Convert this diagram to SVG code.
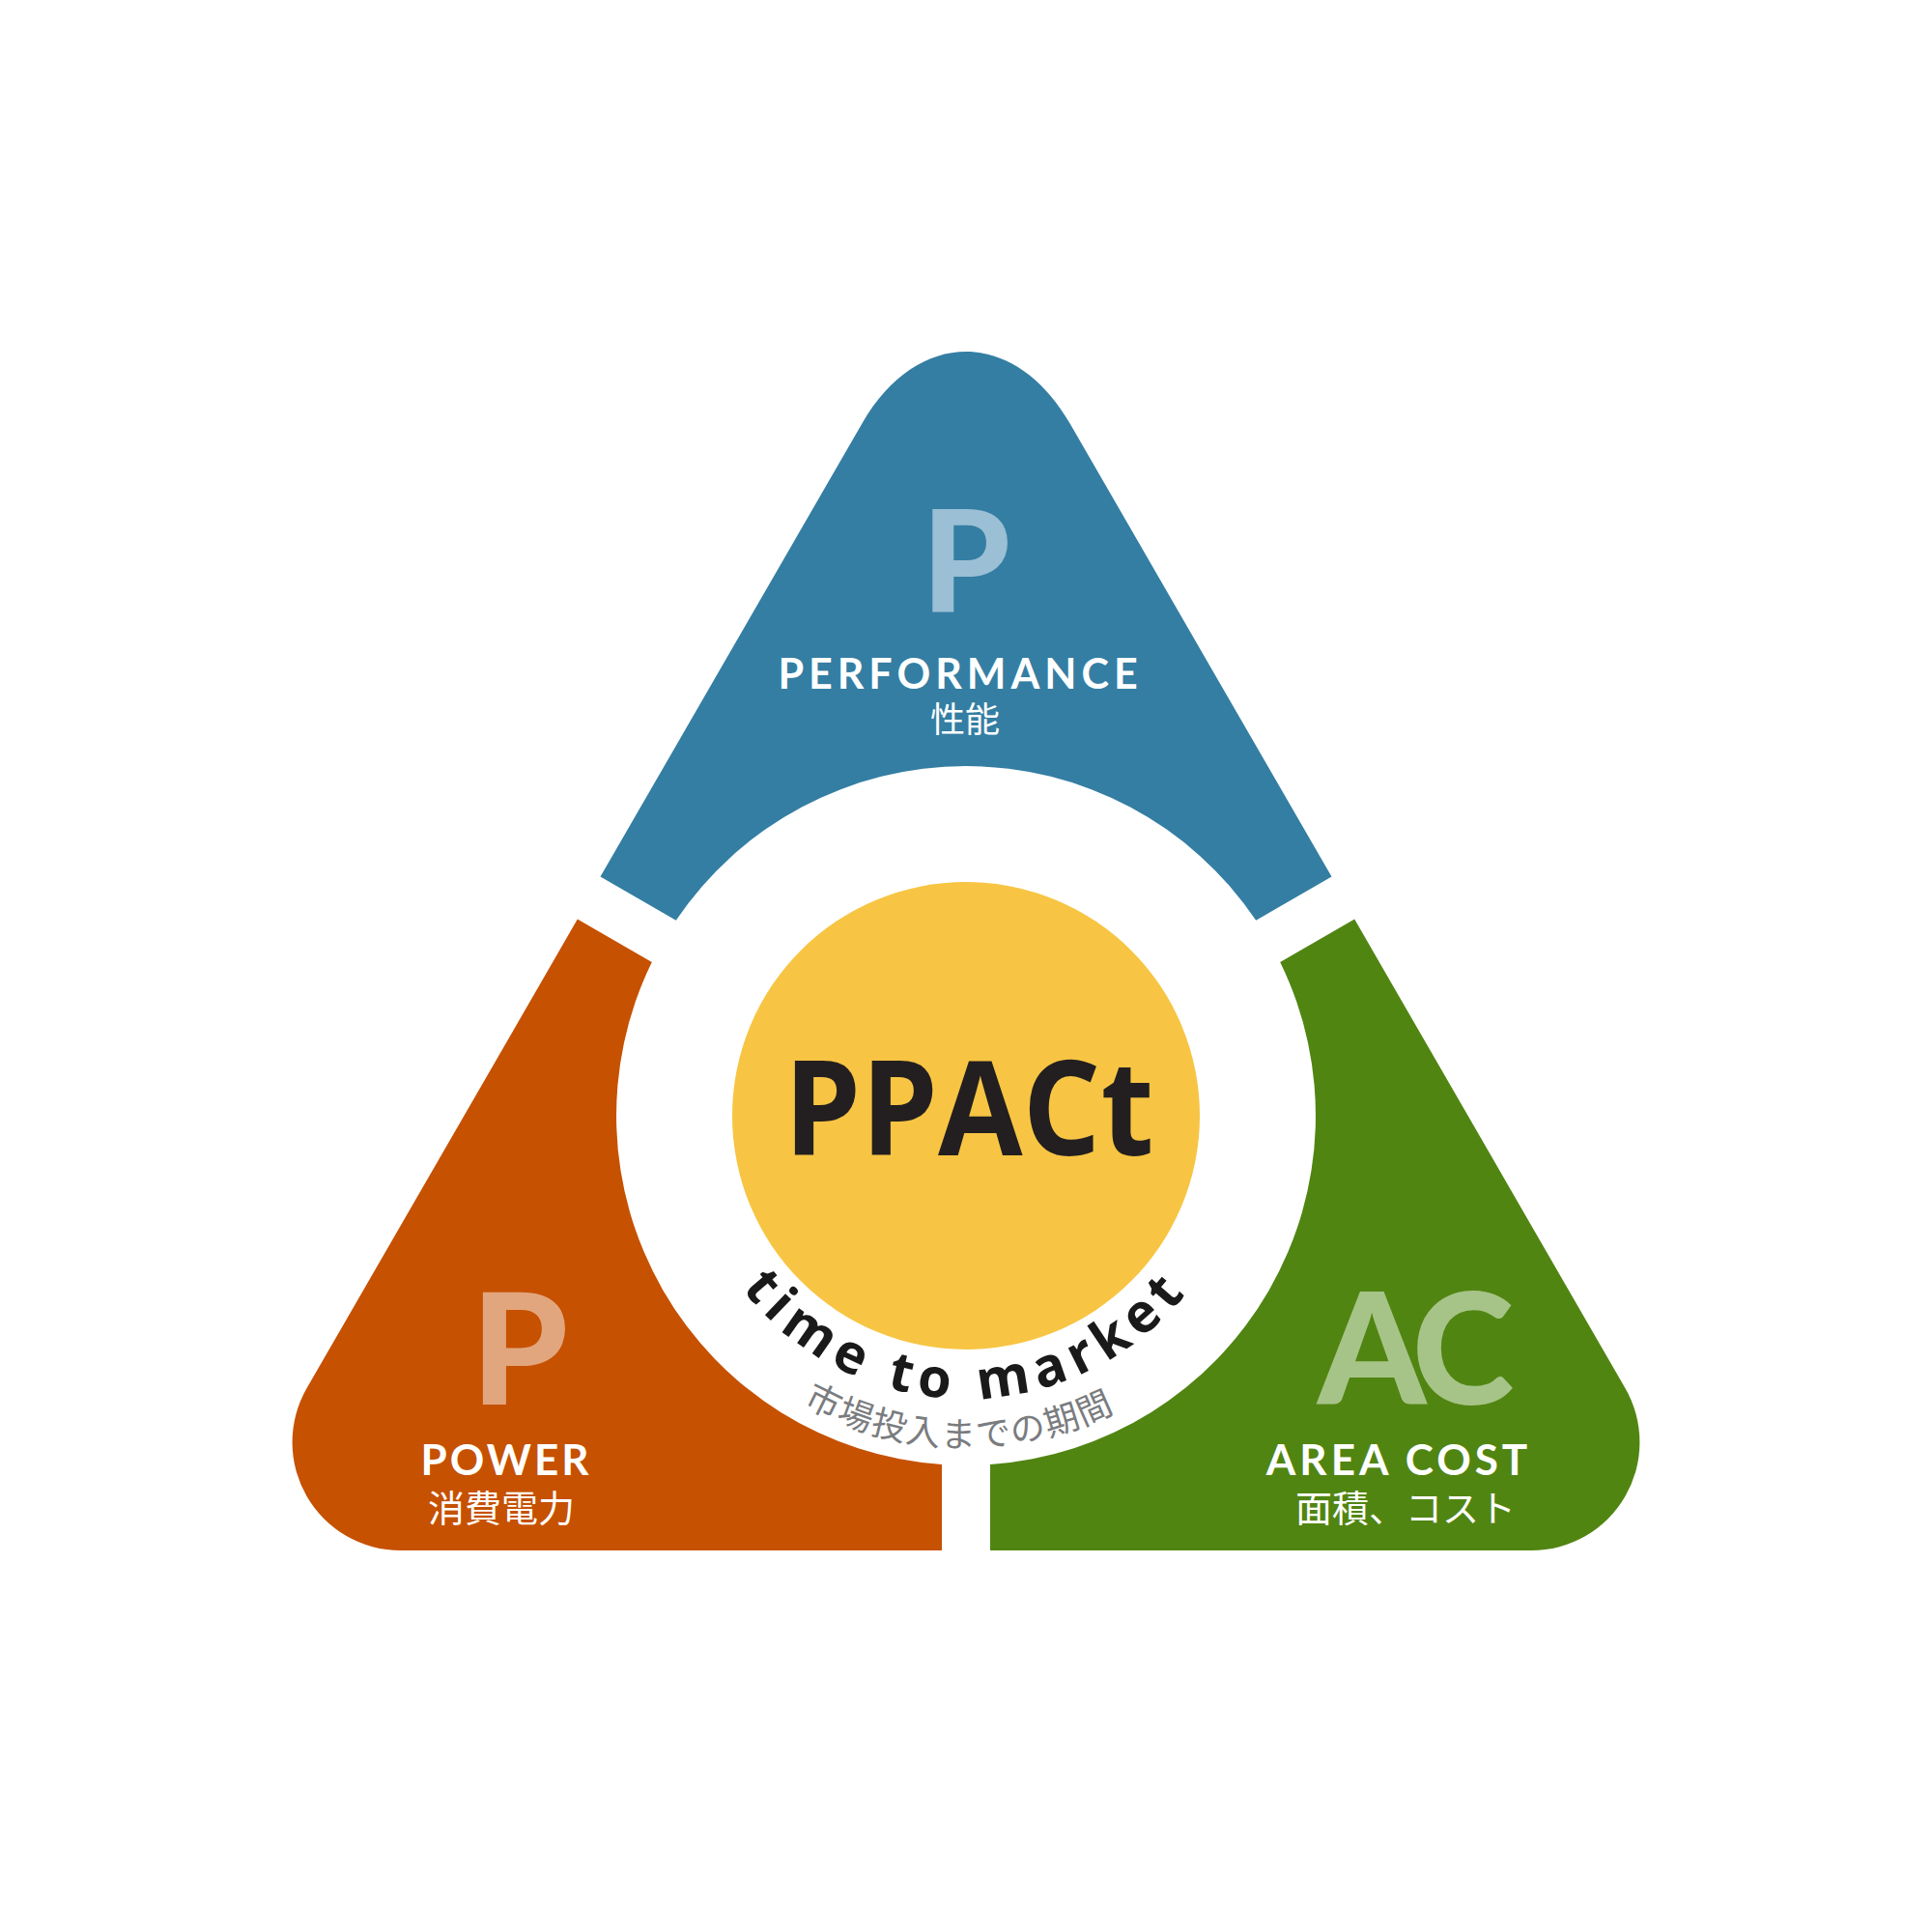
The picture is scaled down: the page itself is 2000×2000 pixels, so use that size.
<svg xmlns="http://www.w3.org/2000/svg" xmlns:xlink="http://www.w3.org/1999/xlink" width="2000" height="2000" viewBox="0 0 2000 2000">
<style>
.lbl{font-family:Lato,"Noto Sans","Liberation Sans",sans-serif;font-weight:700;fill:#ffffff;text-anchor:middle}
.big{font-family:Lato,"Noto Sans","Liberation Sans",sans-serif;font-weight:900;text-anchor:middle}
.jp{font-family:"Noto Sans CJK JP","Noto Sans",sans-serif;fill:#ffffff;text-anchor:middle}
</style>
<defs>
<path id="arcEn" d="M 707 1155 A 293 293 0 0 0 1293 1155"/>
<path id="arcJp" d="M 657 1155 A 343 343 0 0 0 1343 1155"/>
</defs>
<rect width="2000" height="2000" fill="#ffffff"/>
<g id="performance">
<path d="M 621.5 907.6 L 892.5 438.2 C 949.6 339.3 1050.4 339.3 1107.5 438.2 L 1378.5 907.6 L 1300.2 952.8 A 362 362 0 0 0 699.8 952.8 Z" fill="#347EA3"/>
<text class="big" x="1000" y="634" font-size="146" fill="#9BBFD4">P</text>
<text class="lbl" x="994" y="713" font-size="43" letter-spacing="5">PERFORMANCE</text>
<text class="jp" x="999" y="758" font-size="36">性能</text>
</g>
<g id="power">
<path d="M 597.8 951.6 L 317.6 1437 A 112 112 0 0 0 414.6 1605 L 975 1605 L 975 1516.1 A 362 362 0 0 1 674.8 996 Z" fill="#C65100"/>
<text class="big" x="538" y="1454" font-size="160" fill="#E2A67E">P</text>
<text class="lbl" x="524" y="1527" font-size="44" letter-spacing="3">POWER</text>
<text class="jp" x="519" y="1575" font-size="38">消費電力</text>
</g>
<g id="area-cost">
<path d="M 1402.2 951.6 L 1682.4 1437 A 112 112 0 0 1 1585.4 1605 L 1025 1605 L 1025 1516.1 A 362 362 0 0 0 1325.2 996 Z" fill="#518512"/>
<text class="big" x="1460" y="1454" font-size="160" fill="#A7C488" letter-spacing="-11">AC</text>
<text class="lbl" x="1448" y="1527" font-size="44" letter-spacing="4">AREA COST</text>
<text class="jp" x="1455" y="1575" font-size="38">面積、コスト</text>
</g>
<g id="ppact">
<circle cx="1000" cy="1155" r="242" fill="#F7C543"/>
<text x="1003" y="1196" font-family="'Open Sans','Liberation Sans',sans-serif" font-weight="700" font-size="136" fill="#231F20" text-anchor="middle" textLength="383" lengthAdjust="spacingAndGlyphs">PPACt</text>
</g>
<g id="time-to-market">
<text font-family="'Open Sans','Liberation Sans',sans-serif" font-weight="700" font-size="56" fill="#1a1a1a" letter-spacing="8" text-anchor="middle"><textPath xlink:href="#arcEn" href="#arcEn" startOffset="50%">time to market</textPath></text>
<text font-family="'Noto Sans CJK JP',sans-serif" font-size="36" fill="#7A7C80" text-anchor="middle" letter-spacing="1.5"><textPath xlink:href="#arcJp" href="#arcJp" startOffset="49.3%">市場投入までの期間</textPath></text>
</g>
</svg>
